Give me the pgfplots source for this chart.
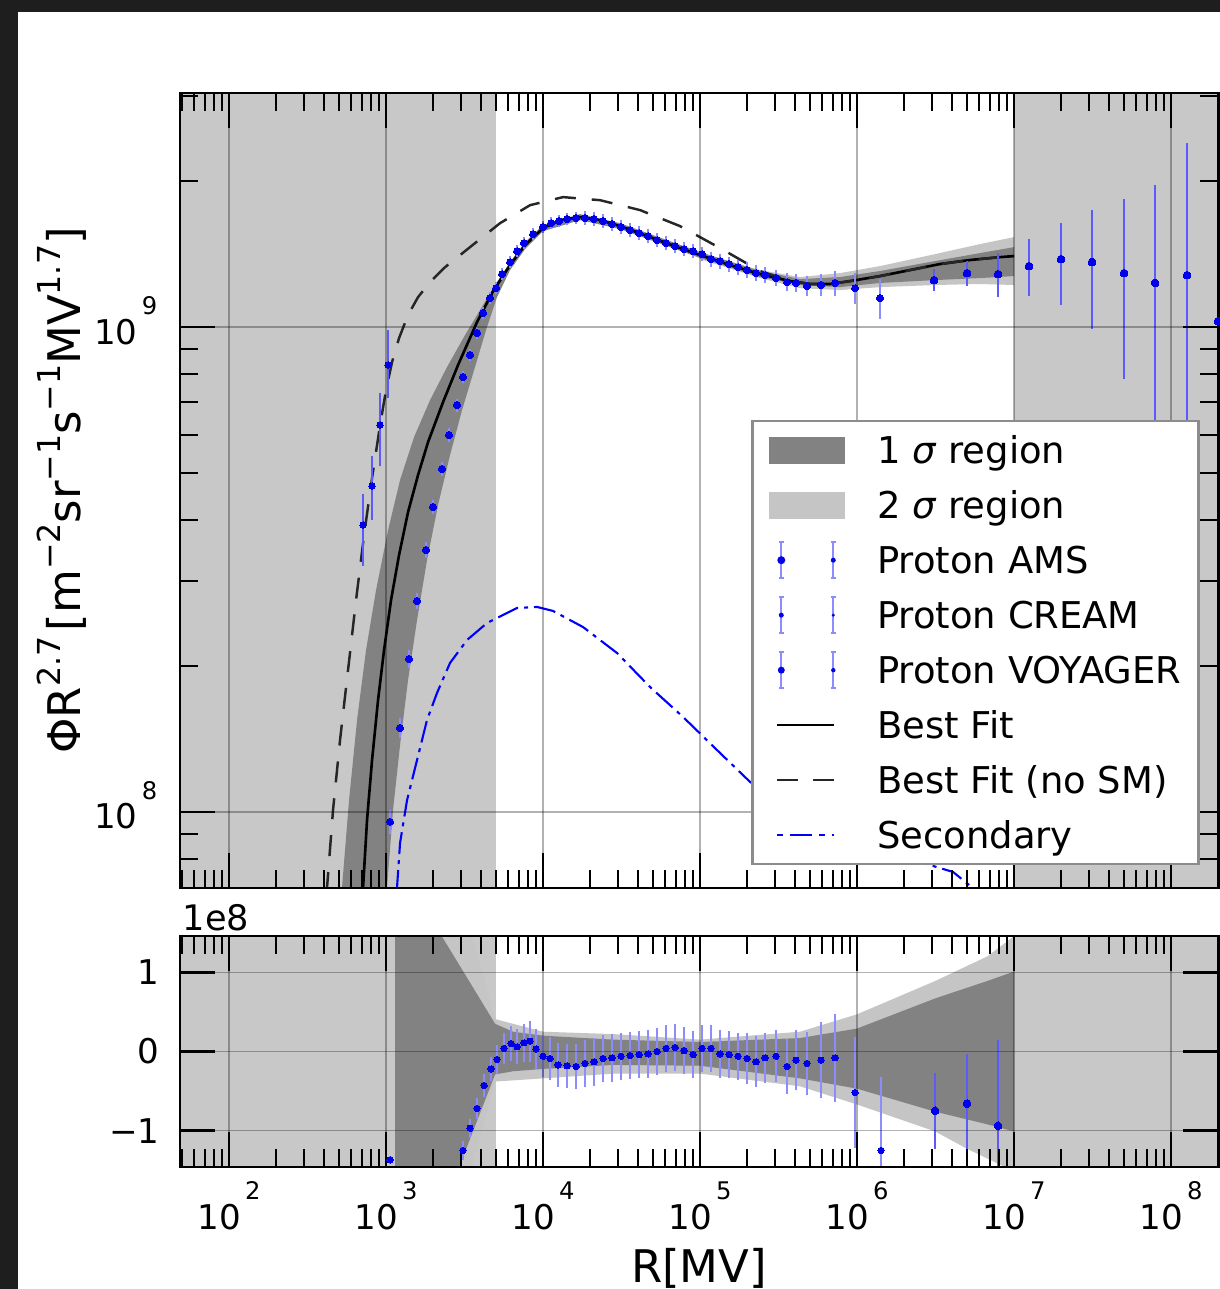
\documentclass[border=0pt]{standalone}
\usepackage{fontspec}
\setmainfont{DejaVu Sans}
\usepackage{pgfplots}
\pgfplotsset{compat=1.18}
\usepackage{pgfplotstable}
\definecolor{shade}{RGB}{200,200,200}
\definecolor{sigA}{RGB}{130,130,130}
\definecolor{sigB}{RGB}{197,197,197}
\definecolor{frameC}{RGB}{30,30,30}
\definecolor{ebar}{RGB}{90,90,255}
\definecolor{ebarL}{RGB}{140,140,255}
\definecolor{pblue}{RGB}{0,0,235}
\newcommand{\tklab}[1]{\mbox{\fontsize{9.7}{10}\selectfont 10\kern1.2pt\raisebox{8.5pt}{\fontsize{6.9}{7}\selectfont #1}}}
\newcommand{\tkn}[1]{\mbox{\fontsize{9.7}{10}\selectfont #1}}
\newcommand{\sups}[1]{\raisebox{5.5pt}{\fontsize{9}{9}\selectfont #1}}

\pgfplotstableread{
R phi e
1061 9.54e7 4e6
1228 1.490e8 5e6
1401 2.068e8 6e6
1576 2.723e8 7e6
1798 3.469e8 8e6
1993 4.255e8 9e6
2274 5.096e8 1.0e7
2519 5.988e8 1.1e7
2833 6.906e8 1.2e7
3094 7.888e8 1.3e7
3428 8.757e8 1.4e7
3798 9.72e8 1.5e7
4148 1.069e9 1.6e7
4597 1.148e9 1.7e7
5020 1.203e9 1.8e7
5483 1.286e9 2.0e7
6164 1.361e9 2.2e7
6831 1.434e9 2.2e7
7568 1.490e9 2.4e7
8636 1.555e9 2.5e7
10000 1.608e9 2.6e7
11250 1.638e9 2.7e7
12650 1.655e9 2.8e7
14220 1.671e9 2.8e7
16230 1.679e9 2.9e7
18510 1.679e9 3.0e7
21120 1.671e9 3.0e7
24110 1.655e9 3.0e7
27510 1.631e9 3.0e7
31400 1.608e9 3.0e7
35830 1.585e9 3.0e7
40880 1.562e9 3.0e7
46660 1.540e9 3.0e7
53240 1.511e9 3.0e7
60760 1.490e9 3.0e7
69320 1.469e9 3.0e7
79100 1.448e9 3.0e7
90270 1.434e9 3.0e7
1.030e5 1.414e9 3.0e7
1.175e5 1.381e9 3.0e7
1.341e5 1.368e9 3.0e7
1.530e5 1.349e9 3.0e7
1.746e5 1.329e9 3.0e7
1.993e5 1.311e9 3.2e7
2.274e5 1.292e9 3.2e7
2.594e5 1.280e9 3.2e7
3.048e5 1.262e9 3.3e7
3.583e5 1.238e9 3.5e7
4.088e5 1.233e9 3.8e7
4.803e5 1.215e9 4.0e7
5.899e5 1.221e9 4.8e7
7.244e5 1.233e9 5.6e7
9.71e5 1.203e9 7.0e7
1.401e6 1.148e9 9.3e7
}\amsTop

\pgfplotstableread{
R phi ep em
3.093e6 1.250e9 4.8e7 4.8e7
5.02e6 1.292e9 6.1e7 6.1e7
7.91e6 1.286e9 1.15e8 1.15e8
1.246e7 1.336e9 1.61e8 1.61e8
1.993e7 1.381e9 2.34e8 2.55e8
3.139e7 1.362e9 3.56e8 3.57e8
5.019e7 1.292e9 5.2e8 5.0e8
7.91e7 1.233e9 7.0e8 7.5e8
1.265e8 1.280e9 1.09e9 9.0e8
1.993e8 1.029e9 1.6e9 9.5e8
}\creamTop

\pgfplotstableread{
R phi ep em
714 3.906e8 5.5e7 6.5e7
815 4.70e8 6.5e7 6.5e7
916 6.279e8 9.5e7 1.05e8
1030 8.35e8 1.37e8 1.11e8
}\voyTop

\pgfplotstableread{
R r e
1061 -1.37 0.05
3094 -1.25 0.12
3428 -0.97 0.12
3798 -0.72 0.13
4209 -0.43 0.14
4665 -0.22 0.15
5093 -0.10 0.18
5644 0.04 0.2
6256 0.10 0.22
6831 0.06 0.22
7568 0.11 0.24
8264 0.13 0.26
9025 0.03 0.25
10000 -0.06 0.26
11080 -0.09 0.27
12460 -0.17 0.28
14220 -0.18 0.28
16230 -0.19 0.29
18510 -0.15 0.3
21120 -0.13 0.3
24110 -0.09 0.3
27510 -0.08 0.3
31400 -0.06 0.3
35830 -0.05 0.3
40880 -0.04 0.3
46660 -0.03 0.3
53240 0.00 0.3
60760 0.04 0.3
69320 0.05 0.3
79100 0.01 0.3
90270 -0.04 0.3
1.03e5 0.04 0.3
1.175e5 0.04 0.3
1.341e5 -0.03 0.3
1.530e5 -0.04 0.3
1.746e5 -0.06 0.3
1.993e5 -0.09 0.32
2.274e5 -0.13 0.32
2.594e5 -0.08 0.32
3.048e5 -0.06 0.33
3.583e5 -0.19 0.35
4.088e5 -0.11 0.38
4.803e5 -0.15 0.4
5.899e5 -0.11 0.48
7.244e5 -0.08 0.56
9.71e5 -0.52 0.7
1.422e6 -1.25 0.93
}\amsRes

\pgfplotstableread{
R r e
3.139e6 -0.75 0.48
5.02e6 -0.66 0.63
7.91e6 -0.94 1.08
}\creamRes

\begin{document}
\begin{tikzpicture}
\useasboundingbox (0,0) rectangle (12.2,12.89);
\clip (0,0) rectangle (12.2,12.89);
\fill[frameC] (0,0) rectangle (12.2,12.89);
\fill[white] (0.18,0) rectangle (12.2,12.77);

\begin{axis}[
  scale only axis, width=10.383cm, height=7.95cm,
  at={(1.80cm,4.01cm)}, anchor=south west,
  xmode=log, xmin=48.7, xmax=2.0e8,
  ymode=log, ymin=6.97e7, ymax=3.04e9,
  axis on top,
  axis line style={line width=0.8pt, black},
  tick align=inside, xtick pos=both, ytick pos=both,
  major tick length=3.5mm, minor tick length=1.8mm,
  every major tick/.append style={line width=0.8pt, black},
  every minor tick/.append style={line width=0.55pt, black},
  xtick={1e2,1e3,1e4,1e5,1e6,1e7,1e8},
  minor xtick={50,60,70,80,90,200,300,400,500,600,700,800,900,
    2e3,3e3,4e3,5e3,6e3,7e3,8e3,9e3,2e4,3e4,4e4,5e4,6e4,7e4,8e4,9e4,
    2e5,3e5,4e5,5e5,6e5,7e5,8e5,9e5,2e6,3e6,4e6,5e6,6e6,7e6,8e6,9e6,
    2e7,3e7,4e7,5e7,6e7,7e7,8e7,9e7,2e8},
  grid=major,
  major grid style={black, opacity=0.3, line width=0.5pt},
  ytick={1e8,1e9}, yticklabels={\tklab{8},\tklab{9}},
  minor ytick={8e7,9e7,2e8,3e8,4e8,5e8,6e8,7e8,8e8,9e8,2e9,3e9},
  xticklabels={},
  yticklabel style={inner sep=0pt, anchor=base east, xshift=-2.2mm, yshift=-1.7mm},
  ylabel={\mbox{\fontsize{12.8}{14}\selectfont ΦR\sups{2.7}\kern1.5pt[m\sups{−2}sr\sups{−1}s\sups{−1}MV\sups{1.7}]}},
  ylabel style={at={(axis description cs:-0.114,0.5)}, anchor=center},
  legend cell align=left,
  legend style={at={(0.5500,0.5887)}, anchor=north west, draw=black!45, line width=0.7pt, fill=white,
    inner xsep=1.7mm, inner ysep=0.15mm, column sep=3.2mm, row sep=0pt,
    font=\fontsize{10.5}{12}\selectfont,
    nodes={inner sep=0pt, text height=3.1mm, text depth=0.4mm, minimum height=5.5mm}},
]
\addplot[fill=shade, draw=none, forget plot] coordinates {(30,1e7) (5000,1e7) (5000,1e10) (30,1e10)} -- cycle;
\addplot[fill=shade, draw=none, forget plot] coordinates {(1e7,1e7) (5e8,1e7) (5e8,1e10) (1e7,1e10)} -- cycle;
\addplot[fill=sigB, draw=none, forget plot] coordinates {
 (1e5,1.42e9) (2.412e5,1.311e9) (4.335e5,1.268e9) (7.79e5,1.292e9) (1.401e6,1.336e9) (3.139e6,1.414e9) (6.073e6,1.483e9) (1e7,1.533e9)
 (1e7,1.221e9) (6.073e6,1.227e9) (3.139e6,1.221e9) (1.401e6,1.209e9) (7.79e5,1.192e9) (4.335e5,1.203e9) (2.412e5,1.262e9) (1e5,1.381e9)} -- cycle;
\addplot[fill=sigA, draw=none, forget plot] coordinates {
 (509.3,5.71e7) (524.4,7.0e7) (581.3,1.058e8) (653.6,1.548e8) (745.8,2.158e8) (863.9,2.870e8) (1030,3.814e8) (1228,4.836e8)
 (1508,5.932e8) (1907,7.07e8) (2446,8.27e8) (3186,9.63e8) (3969,1.084e9) (4947,1.221e9) (6164,1.361e9) (7680,1.497e9)
 (1e4,1.623e9) (17210,1.710e9) (30930,1.638e9) (1e5,1.428e9) (2.412e5,1.305e9) (4.335e5,1.256e9) (7.79e5,1.268e9)
 (1.401e6,1.305e9) (3.139e6,1.368e9) (6.073e6,1.421e9) (1e7,1.462e9)
 (1e7,1.274e9) (6.073e6,1.262e9) (3.139e6,1.250e9) (1.401e6,1.233e9) (7.79e5,1.209e9) (4.335e5,1.221e9) (2.412e5,1.268e9)
 (1e5,1.388e9) (30930,1.593e9) (17210,1.662e9) (1e4,1.577e9) (7680,1.448e9) (6164,1.311e9) (5093,1.153e9) (4335,9.86e8)
 (3636,8.15e8) (3049,6.744e8) (2556,5.446e8) (2144,4.295e8) (1824,3.308e8) (1576,2.488e8) (1381,1.872e8) (1228,1.374e8)
 (1108,1.010e8) (1015,7.0e7) (985.4,5.71e7)} -- cycle;
\addplot[black, line width=0.75pt, forget plot] coordinates {
 (693,5.71e7) (714,7.0e7) (756.8,9.63e7) (814.5,1.280e8) (889.4,1.702e8) (971.2,2.158e8) (1076,2.736e8) (1210,3.388e8)
 (1381,4.155e8) (1599,4.953e8) (1852,5.792e8) (2307,7.003e8) (2874,8.35e8) (3798,1.024e9) (4803,1.186e9) (6164,1.342e9)
 (7680,1.476e9) (1e4,1.600e9) (12830,1.662e9) (17210,1.686e9) (23070,1.662e9)
 (30930,1.615e9) (48030,1.533e9) (74580,1.455e9) (1e5,1.408e9) (1.553e5,1.342e9) (2.412e5,1.286e9) (3.744e5,1.244e9)
 (5.019e5,1.227e9) (6.73e5,1.227e9) (9.03e5,1.244e9) (1.401e6,1.274e9) (2.176e6,1.311e9) (3.378e6,1.349e9) (5.245e6,1.375e9)
 (8.145e6,1.394e9) (1e7,1.401e9)};
\addplot[black!85, line width=0.7pt, dash pattern=on 2.1mm off 1.6mm, forget plot] coordinates {
 (409,5.71e7) (421,7.0e7) (459.6,1.010e8) (509.3,1.408e8) (572.8,1.963e8) (644.1,2.736e8) (724.3,3.725e8) (814.5,4.884e8)
 (915.9,6.279e8) (1000,7.418e8) (1092,8.47e8) (1210,9.49e8) (1381,1.059e9) (1599,1.153e9) (1907,1.238e9) (2376,1.329e9)
 (3428,1.462e9) (5322,1.638e9)
 (8264,1.784e9) (13410,1.854e9) (23070,1.827e9) (41480,1.743e9) (74580,1.615e9) (1.341e5,1.455e9) (2.412e5,1.305e9)
 (3.744e5,1.244e9) (5.019e5,1.227e9) (6.73e5,1.227e9) (9.03e5,1.244e9) (1.401e6,1.274e9) (2.176e6,1.311e9) (3.378e6,1.349e9)
 (5.245e6,1.375e9) (8.145e6,1.394e9) (1e7,1.401e9)};
\addplot[blue, line width=0.6pt, dash pattern=on 2.2mm off 0.6mm on 0.4mm off 0.6mm, forget plot] coordinates {
 (1141,5.71e7) (1175,7.0e7) (1228,8.63e7) (1361,1.058e8) (1576,1.280e8) (1824,1.548e8) (2112,1.760e8) (2556,2.029e8)
 (3281,2.263e8) (4398,2.453e8) (6831,2.634e8) (9160,2.647e8) (11580,2.597e8) (17980,2.406e8) (29600,2.127e8) (48030,1.810e8)
 (77950,1.570e8) (1.341e5,1.323e8) (2.083e5,1.153e8) (4.335e5,9.86e7) (9.03e5,8.75e7) (1.879e6,8.11e7) (4.088e6,7.52e7)
 (5.645e6,6.91e7) (7.03e6,6.28e7)};
\addplot[pblue, only marks, mark=*, mark size=1pt, mark options={fill=pblue, draw=pblue, line width=0pt}, forget plot,
  error bars/.cd, y dir=both, y explicit, error bar style={ebarL, line width=0.5pt}, error mark options={ebarL, mark size=0.8pt, line width=0.5pt}]
  table[x=R, y=phi, y error=e] {\amsTop};
\addplot[pblue, only marks, mark=*, mark size=1.1pt, mark options={fill=pblue, draw=pblue, line width=0pt}, forget plot,
  error bars/.cd, y dir=both, y explicit, error bar style={ebar, line width=0.6pt}, error mark options={ebar, mark size=0.8pt, line width=0.5pt}]
  table[x=R, y=phi, y error plus=ep, y error minus=em] {\creamTop};
\addplot[pblue, only marks, mark=*, mark size=0.9pt, mark options={fill=pblue, draw=pblue, line width=0pt}, forget plot,
  error bars/.cd, y dir=both, y explicit, error bar style={ebar, line width=0.55pt}, error mark options={ebar, mark size=0.8pt, line width=0.5pt}]
  table[x=R, y=phi, y error plus=ep, y error minus=em] {\voyTop};
\addlegendimage{legend image code/.code={\path[draw=none, fill=none] (0mm,-2.7mm) rectangle (7.6mm,2.7mm); \path[draw=none, fill=sigA] (0mm,-1.35mm) rectangle (7.6mm,1.35mm);}}
\addlegendentry{1 \textit{σ} region}
\addlegendimage{legend image code/.code={\path[draw=none, fill=none] (0mm,-2.7mm) rectangle (7.6mm,2.7mm); \path[draw=none, fill=sigB] (0mm,-1.35mm) rectangle (7.6mm,1.35mm);}}
\addlegendentry{2 \textit{σ} region}
\addlegendimage{legend image code/.code={\path[draw=none, fill=none] (0mm,-2.7mm) rectangle (7.6mm,2.7mm);
    \draw[ebarL, line width=0.5pt] (1.2mm,-1.8mm)--(1.2mm,1.8mm) (0.95mm,-1.8mm)--(1.45mm,-1.8mm) (0.95mm,1.8mm)--(1.45mm,1.8mm)
      (6.4mm,-1.8mm)--(6.4mm,1.8mm) (6.15mm,-1.8mm)--(6.65mm,-1.8mm) (6.15mm,1.8mm)--(6.65mm,1.8mm);
    \path[draw=none, fill=pblue] (1.2mm,0mm) circle (0.4mm); \path[draw=none, fill=pblue] (6.4mm,0mm) circle (0.25mm);}}
\addlegendentry{Proton AMS}
\addlegendimage{legend image code/.code={\path[draw=none, fill=none] (0mm,-2.7mm) rectangle (7.6mm,2.7mm);
    \draw[ebarL, line width=0.5pt] (1.2mm,-1.8mm)--(1.2mm,1.8mm) (0.95mm,-1.8mm)--(1.45mm,-1.8mm) (0.95mm,1.8mm)--(1.45mm,1.8mm)
      (6.4mm,-1.8mm)--(6.4mm,1.8mm) (6.15mm,-1.8mm)--(6.65mm,-1.8mm) (6.15mm,1.8mm)--(6.65mm,1.8mm);
    \path[draw=none, fill=pblue] (1.2mm,0mm) circle (0.25mm); \path[draw=none, fill=pblue] (6.4mm,0mm) circle (0.17mm);}}
\addlegendentry{Proton CREAM}
\addlegendimage{legend image code/.code={\path[draw=none, fill=none] (0mm,-2.7mm) rectangle (7.6mm,2.7mm);
    \draw[ebarL, line width=0.5pt] (1.2mm,-1.8mm)--(1.2mm,1.8mm) (0.95mm,-1.8mm)--(1.45mm,-1.8mm) (0.95mm,1.8mm)--(1.45mm,1.8mm)
      (6.4mm,-1.8mm)--(6.4mm,1.8mm) (6.15mm,-1.8mm)--(6.65mm,-1.8mm) (6.15mm,1.8mm)--(6.65mm,1.8mm);
    \path[draw=none, fill=pblue] (1.2mm,0mm) circle (0.35mm); \path[draw=none, fill=pblue] (6.4mm,0mm) circle (0.22mm);}}
\addlegendentry{Proton VOYAGER}
\addlegendimage{legend image code/.code={\path[draw=none, fill=none] (0mm,-2.7mm) rectangle (7.6mm,2.7mm); \draw[black, line width=0.75pt] (0.8mm,0mm)--(6.5mm,0mm);}}
\addlegendentry{Best Fit}
\addlegendimage{legend image code/.code={\path[draw=none, fill=none] (0mm,-2.7mm) rectangle (7.6mm,2.7mm); \draw[black!85, line width=0.7pt, dash pattern=on 2.1mm off 1.5mm] (0.8mm,0mm)--(6.5mm,0mm);}}
\addlegendentry{Best Fit (no SM)}
\addlegendimage{legend image code/.code={\path[draw=none, fill=none] (0mm,-2.7mm) rectangle (7.6mm,2.7mm); \draw[blue, line width=0.6pt, dash pattern=on 0.6mm off 0.7mm on 2.2mm off 0.7mm] (0.8mm,0mm)--(6.5mm,0mm);}}
\addlegendentry{Secondary}
\end{axis}

\begin{axis}[
  scale only axis, width=10.383cm, height=2.31cm,
  at={(1.80cm,1.22cm)}, anchor=south west,
  xmode=log, xmin=48.7, xmax=2.0e8,
  ymin=-1.46, ymax=1.46,
  axis on top,
  axis line style={line width=0.8pt, black},
  tick align=inside, xtick pos=both, ytick pos=both,
  major tick length=3.5mm, minor tick length=1.8mm,
  every major tick/.append style={line width=0.8pt, black},
  every minor tick/.append style={line width=0.55pt, black},
  xtick={1e2,1e3,1e4,1e5,1e6,1e7,1e8},
  minor xtick={50,60,70,80,90,200,300,400,500,600,700,800,900,
    2e3,3e3,4e3,5e3,6e3,7e3,8e3,9e3,2e4,3e4,4e4,5e4,6e4,7e4,8e4,9e4,
    2e5,3e5,4e5,5e5,6e5,7e5,8e5,9e5,2e6,3e6,4e6,5e6,6e6,7e6,8e6,9e6,
    2e7,3e7,4e7,5e7,6e7,7e7,8e7,9e7,2e8},
  grid=major,
  major grid style={black, opacity=0.3, line width=0.5pt},
  ytick={-1,0,1}, yticklabels={\tkn{−1},\tkn{0},\tkn{1}},
  xticklabels={\tklab{2},\tklab{3},\tklab{4},\tklab{5},\tklab{6},\tklab{7},\tklab{8}},
  xticklabel style={inner sep=0pt, anchor=north, yshift=-1.4mm},
  yticklabel style={inner sep=0pt, xshift=-2mm},
  xlabel={\mbox{\fontsize{12.8}{14}\selectfont R[MV]}},
  xlabel style={at={(axis description cs:0.5,0)}, anchor=base, yshift=-11.6mm, inner sep=0pt},
  after end axis/.code={\node[anchor=base west, inner sep=0pt, font=\fontsize{10}{11}\selectfont, yshift=0.5mm, xshift=0.2mm] at (rel axis cs:0,1) {1e8};},
]
\addplot[fill=shade, draw=none, forget plot] coordinates {(30,-5) (5000,-5) (5000,5) (30,5)} -- cycle;
\addplot[fill=shade, draw=none, forget plot] coordinates {(1e7,-5) (5e8,-5) (5e8,5) (1e7,5)} -- cycle;
\addplot[fill=sigB, draw=none, forget plot] coordinates {
 (1141,5) (4950,0.41) (1e4,0.25) (27920,0.22) (1e5,0.15) (4.335e5,0.25) (1e6,0.47) (3.139e6,0.89) (6.73e6,1.2) (9.03e6,1.39) (1e7,1.46)
 (1e7,-1.52) (8.145e6,-1.43) (5.02e6,-1.23) (3.139e6,-1.01) (1e6,-0.67) (4.335e5,-0.44) (1e5,-0.28) (27920,-0.28) (1e4,-0.34) (4950,-0.38) (1141,-5)} -- cycle;
\addplot[fill=sigA, draw=none, forget plot] coordinates {
 (1141,2.45) (2307,1.43) (3428,0.87) (4950,0.35) (6442,0.25) (1e4,0.2) (27920,0.15) (1e5,0.12) (4.335e5,0.17) (1e6,0.29) (3.139e6,0.67) (6.73e6,0.89) (1e7,1.01)
 (1e7,-1.01) (6.73e6,-0.92) (3.139e6,-0.76) (1e6,-0.47) (4.335e5,-0.34) (1e5,-0.18) (27920,-0.17) (1e4,-0.22) (6442,-0.25) (4950,-0.29) (2960,-1.43) (2207,-2.15) (1141,-3.6)} -- cycle;
\addplot[pblue, only marks, mark=*, mark size=0.9pt, mark options={fill=pblue, draw=pblue, line width=0pt}, forget plot,
  error bars/.cd, y dir=both, y explicit, error bar style={ebarL, line width=0.5pt}, error mark=none]
  table[x=R, y=r, y error=e] {\amsRes};
\addplot[pblue, only marks, mark=*, mark size=1.1pt, mark options={fill=pblue, draw=pblue, line width=0pt}, forget plot,
  error bars/.cd, y dir=both, y explicit, error bar style={ebar, line width=0.6pt}, error mark=none]
  table[x=R, y=r, y error=e] {\creamRes};
\end{axis}
\end{tikzpicture}
\end{document}
